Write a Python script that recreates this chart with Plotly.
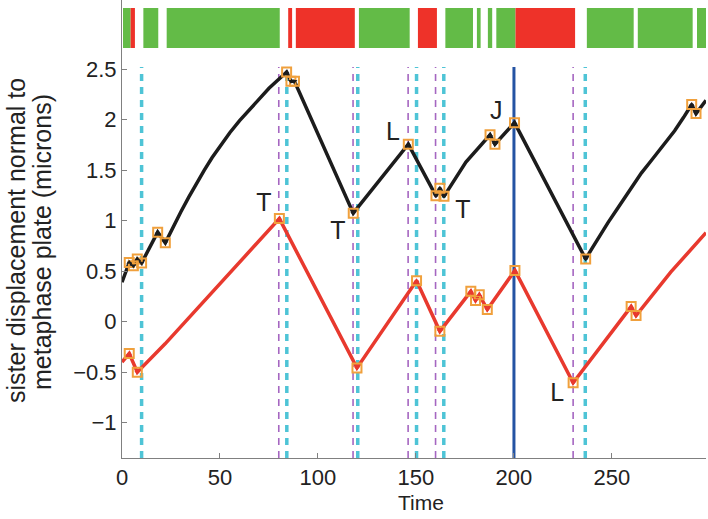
import plotly.graph_objects as go

# ---------------- data ----------------
# sister 1 (black) trajectory
black_t = [0, 3.7, 5.8, 7.8, 10.0, 18.2, 22.1, 26, 30, 34, 38, 42, 46, 50, 55, 60, 65, 70, 75, 80, 84.0, 86.2, 88.0,
           118.0, 146.1, 160.2, 162.2, 164.3, 175.5, 187.8, 190.3, 200.3, 236.6,
           240, 244, 248, 252.5, 257, 261, 265, 269.5, 274, 278, 282, 286.5, 290.7, 292.9, 298]
black_v = [0.39, 0.586, 0.553, 0.62, 0.58, 0.886, 0.78, 0.935, 1.085, 1.23, 1.37, 1.50, 1.625, 1.74, 1.87, 1.99, 2.10,
           2.205, 2.31, 2.40, 2.47, 2.38, 2.38,
           1.074, 1.756, 1.245, 1.32, 1.24, 1.58, 1.85, 1.756, 1.97, 0.62,
           0.73, 0.86, 0.98, 1.11, 1.24, 1.36, 1.47, 1.58, 1.69, 1.79, 1.89, 2.02, 2.15, 2.06, 2.19]
# sister 2 (red) trajectory
red_t = [0, 3.7, 7.8, 22, 80.3, 119.9, 150.3, 162.2, 178, 180.4, 182.3, 186.4, 200.5, 230.2, 259.8, 262.3, 280, 298]
red_v = [-0.40, -0.316, -0.50, -0.22, 1.02, -0.458, 0.405, -0.096, 0.30, 0.21, 0.267, 0.12, 0.507, -0.606, 0.149, 0.06, 0.49, 0.88]

# detected turning points (time, value, direction)
black_mk_t = [3.7, 5.8, 7.8, 10.0, 18.2, 22.1, 84.0, 86.2, 88.0, 118.0, 146.1, 160.2, 162.2, 164.3,
              187.8, 190.3, 200.3, 236.6, 290.7, 292.9]
black_mk_v = [0.586, 0.553, 0.62, 0.58, 0.886, 0.78, 2.47, 2.38, 2.38, 1.074, 1.756, 1.245, 1.32, 1.24,
              1.85, 1.756, 1.97, 0.62, 2.15, 2.06]
black_mk_dir = ["up", "down", "up", "down", "up", "down", "up", "down", "down", "down", "up", "down", "up", "down",
                "up", "down", "up", "down", "up", "down"]
red_mk_t = [3.7, 7.8, 80.3, 119.9, 150.3, 162.2, 178, 180.4, 182.3, 186.4, 200.5, 230.2, 259.8, 262.3]
red_mk_v = [-0.316, -0.50, 1.02, -0.458, 0.405, -0.096, 0.30, 0.21, 0.267, 0.12, 0.507, -0.606, 0.149, 0.06]
red_mk_dir = ["up", "down", "up", "down", "up", "down", "up", "down", "up", "down", "up", "down", "up", "down"]

# event times
purple_t = [80, 117.9, 146, 160, 230.2]
cyan_t = [10, 84.1, 120.3, 150.3, 164.2, 236.4]
blue_t = [200]

# state strip segments (start, end)
green_start = [0.5, 10.9, 22.8, 120.9, 165.0, 181.1, 186.7, 191.0, 237.2, 263.2, 293.4]
green_end = [4.4, 18.5, 80.5, 146.8, 179.1, 183.0, 188.9, 200.8, 261.1, 291.2, 298.0]
red_start = [4.4, 84.8, 88.7, 151.0, 200.8]
red_end = [6.6, 86.8, 118.8, 160.7, 231.2]

# event labels
label_text = ["T", "T", "L", "T", "J", "L"]
label_t = [72.4, 110.2, 138.3, 174.0, 191.0, 222.1]
label_v = [1.155, 0.875, 1.858, 1.089, 2.063, -0.726]

x_ticks = [0, 50, 100, 150, 200, 250]
y_ticks = [-1, -0.5, 0, 0.5, 1, 1.5, 2, 2.5]
y_ticklabels = ["\u22121", "\u22120.5", "0", "0.5", "1", "1.5", "2", "2.5"]

# ---------------- styling ----------------
W, H = 708, 519
L_M, R_M, T_M, B_M = 122, 2, 0, 61
PH = H - T_M - B_M            # 458
PW = W - L_M - R_M            # 584
MAIN_TOP = 398 / PH           # main panel domain top
Y_LO, Y_HI = -1.35, 2.59
VLINE_TOP = 2.52
FONT = "Liberation Sans, Arial, Helvetica, sans-serif"
AX_COL = "#808080"
C_BLACK = "#1c1c1c"
C_RED = "#e8392e"
C_ORANGE = "#f0a03c"
C_GREEN = "#63bb47"
C_STRIP_RED = "#ee3229"


def vlines(ts):
    xs, ys = [], []
    for t in ts:
        xs += [t, t, None]
        ys += [Y_LO, VLINE_TOP, None]
    return xs, ys


fig = go.Figure()

# strip
fig.add_trace(go.Bar(
    base=green_start, x=[e - s for s, e in zip(green_start, green_end)], y=[32] * len(green_start),
    orientation="h", width=40, marker=dict(color=C_GREEN, line=dict(width=0)),
    xaxis="x2", yaxis="y2", showlegend=False, hoverinfo="skip"))
fig.add_trace(go.Bar(
    base=red_start, x=[e - s for s, e in zip(red_start, red_end)], y=[32] * len(red_start),
    orientation="h", width=40, marker=dict(color=C_STRIP_RED, line=dict(width=0)),
    xaxis="x2", yaxis="y2", showlegend=False, hoverinfo="skip"))

# event lines
xs, ys = vlines(purple_t)
fig.add_trace(go.Scatter(x=xs, y=ys, mode="lines",
                         line=dict(color="#a566c1", width=1.6, dash="7px,6px"), showlegend=False))
xs, ys = vlines(cyan_t)
fig.add_trace(go.Scatter(x=xs, y=ys, mode="lines",
                         line=dict(color="#4ec4d6", width=3.5, dash="7px,6px"), showlegend=False))
xs, ys = vlines(blue_t)
fig.add_trace(go.Scatter(x=xs, y=ys, mode="lines",
                         line=dict(color="#2453a3", width=3), showlegend=False))

# trajectories
fig.add_trace(go.Scatter(x=black_t, y=black_v, mode="lines",
                         line=dict(color=C_BLACK, width=3.5), showlegend=False))
fig.add_trace(go.Scatter(x=red_t, y=red_v, mode="lines",
                         line=dict(color=C_RED, width=3.5), showlegend=False))

# markers
for mt, mv, md, col in [(black_mk_t, black_mk_v, black_mk_dir, C_BLACK),
                        (red_mk_t, red_mk_v, red_mk_dir, C_RED)]:
    fig.add_trace(go.Scatter(x=mt, y=mv, mode="markers",
                             marker=dict(symbol="square-open", size=9, color=C_ORANGE,
                                         line=dict(width=2, color=C_ORANGE)),
                             showlegend=False))
    fig.add_trace(go.Scatter(x=mt, y=mv, mode="markers",
                             marker=dict(symbol=["triangle-up" if d == "up" else "triangle-down" for d in md],
                                         size=5, color=col, line=dict(width=0)),
                             showlegend=False))

# labels
fig.add_trace(go.Scatter(x=label_t, y=label_v, mode="text", text=label_text,
                         textfont=dict(family=FONT, size=25, color="#222222"),
                         showlegend=False))

fig.update_layout(
    template="none",
    width=W, height=H,
    margin=dict(l=L_M, r=R_M, t=T_M, b=B_M, autoexpand=False),
    paper_bgcolor="white", plot_bgcolor="white",
    font=dict(family=FONT, size=22, color="#222222"),
    barmode="overlay",
    xaxis=dict(domain=[0, 1], range=[0, 298], anchor="y", automargin=False,
               showline=True, linecolor=AX_COL, linewidth=1, mirror=False,
               ticks="inside", ticklen=5, tickcolor=AX_COL, tickvals=x_ticks,
               showgrid=False, zeroline=False,
               tickfont=dict(size=22)),
    yaxis=dict(domain=[0, MAIN_TOP], range=[Y_LO, Y_HI], anchor="x", automargin=False,
               showline=True, linecolor=AX_COL, linewidth=1,
               ticks="inside", ticklen=5, tickcolor=AX_COL,
               tickvals=y_ticks, ticktext=y_ticklabels,
               showgrid=False, zeroline=False, tickfont=dict(size=22)),
    xaxis2=dict(matches="x", anchor="y2", visible=False, showgrid=False, automargin=False),
    yaxis2=dict(domain=[MAIN_TOP, 1], range=[0, 60], anchor="x2", automargin=False,
                showline=True, linecolor=AX_COL, linewidth=1,
                showticklabels=False, ticks="", showgrid=False, zeroline=False),
    annotations=[
        dict(text="sister displacement normal to", xref="paper", yref="paper",
             x=(16 - L_M) / PW, y=(PH - 241) / PH, textangle=-90,
             showarrow=False, xanchor="center", yanchor="middle",
             font=dict(size=25, family=FONT, color="#222222")),
        dict(text="metaphase plate (microns)", xref="paper", yref="paper",
             x=(42 - L_M) / PW, y=(PH - 242) / PH, textangle=-90,
             showarrow=False, xanchor="center", yanchor="middle",
             font=dict(size=25, family=FONT, color="#222222")),
        dict(text="Time", xref="paper", yref="paper",
             x=(421 - L_M) / PW, y=(PH - 502) / PH,
             showarrow=False, xanchor="center", yanchor="middle",
             font=dict(size=21, family=FONT, color="#222222")),
    ],
)

fig.write_html("out.html", config={"displayModeBar": False},
               post_script="document.body.style.margin='0';document.body.style.padding='0';")
